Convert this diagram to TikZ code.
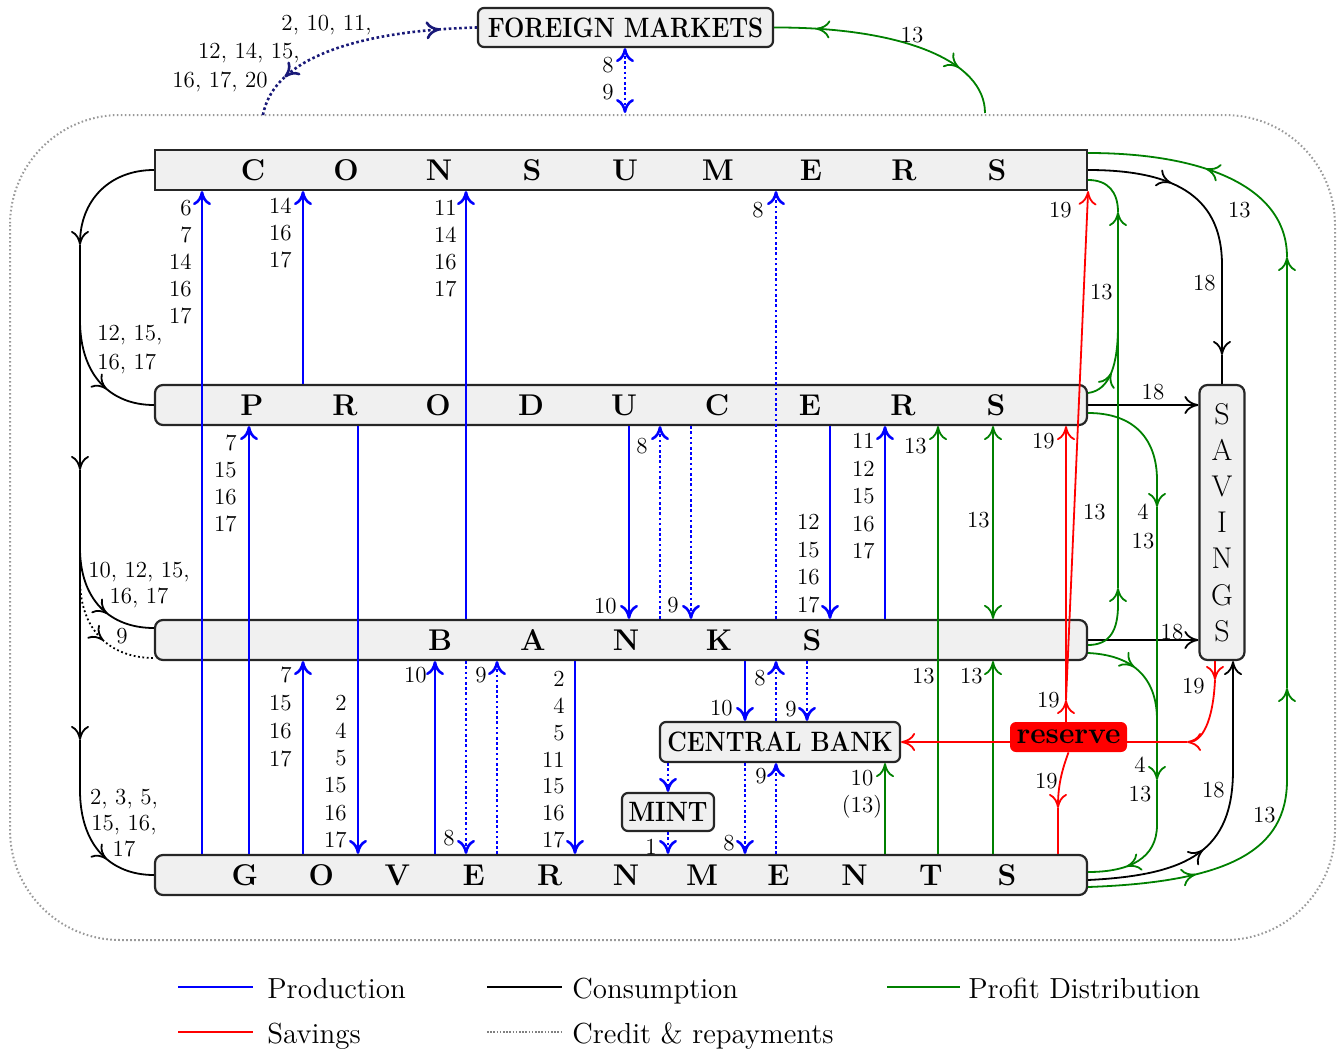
\documentclass[tikz,border=0pt]{standalone}
\usepackage{fontspec}
\usetikzlibrary{arrows.meta,decorations.markings}
\definecolor{pgreen}{RGB}{0,128,0}
\definecolor{boxgray}{RGB}{240,240,240}
\definecolor{navyb}{RGB}{25,25,120}
\newcommand\wideL[1]{\makebox[46.5pt]{#1}}
\newcommand\govL[1]{\makebox[38.1pt]{#1}}
\begin{document}
\begin{tikzpicture}[x=0.5pt,y=-0.5pt,>={To[length=7pt,width=9pt]},
  box/.style={draw=black!85,line width=1.1pt,fill=boxgray,inner sep=0pt,rounded corners=4pt},
  band/.style={box,minimum width=466pt,minimum height=20pt,font=\fontsize{15}{18}\selectfont\bfseries},
  small box/.style={box,rounded corners=3pt,font=\fontsize{14}{16}\selectfont\bfseries},
  prodl/.style={blue,line width=1.3pt},
  credl/.style={blue,line width=1.3pt,dash pattern=on 1.3pt off 1.3pt},
  consl/.style={black,line width=0.9pt},
  profl/.style={pgreen,line width=0.9pt},
  savl/.style={red,line width=0.9pt},
  num/.style={font=\fontsize{11.5}{13.5}\selectfont,inner sep=0pt,align=right,anchor=north east},
  numc/.style={font=\fontsize{11.5}{13.5}\selectfont,inner sep=0pt,align=center},
  legtext/.style={font=\fontsize{14.5}{17}\selectfont,inner sep=0pt,anchor=base west},
  am/.style={postaction={decorate,decoration={markings,mark=at position #1 with {\arrow{>}}}}},
  amr/.style={postaction={decorate,decoration={markings,mark=at position #1 with {\arrowreversed{>}}}}}
]
\useasboundingbox (0,0) rectangle (1340,1050);
\draw[gray!80,line width=1pt,dash pattern=on 0.8pt off 1.2pt,rounded corners=55pt] (10,115) rectangle (1335,940);

% ---------- boxes
\node[band,rounded corners=0pt] (cons) at (621,170) {\hspace*{4pt}\wideL{C}\wideL{O}\wideL{N}\wideL{S}\wideL{U}\wideL{M}\wideL{E}\wideL{R}\wideL{S}};
\node[band] (prod) at (621,405) {\hspace*{3pt}\wideL{P}\wideL{R}\wideL{O}\wideL{D}\wideL{U}\wideL{C}\wideL{E}\wideL{R}\wideL{S}};
\node[band] (banks) at (621,640) {\hspace*{5pt}\wideL{B}\wideL{A}\wideL{N}\wideL{K}\wideL{S}};
\node[band] (gov) at (621,875) {\hspace*{5pt}\govL{G}\govL{O}\govL{V}\govL{E}\govL{R}\govL{N}\govL{M}\govL{E}\govL{N}\govL{T}\govL{S}};
\node[box,minimum width=22.5pt,minimum height=137.5pt,align=center,font=\fontsize{15}{18.1}\selectfont] (sav) at (1222,522.5) {S\\A\\V\\I\\N\\G\\S};
\node[small box,minimum width=147.5pt,minimum height=19.5pt] (fm) at (625.5,27.5) {\scalebox{0.86}[1]{FOREIGN MARKETS}};
\node[small box,minimum width=120pt,minimum height=20pt] (cb) at (780,742) {\scalebox{0.86}[1]{CENTRAL BANK}};
\node[small box,minimum width=46pt,minimum height=19pt] (mint) at (668,812) {\scalebox{0.9}[1]{MINT}};
\node[fill=red,rounded corners=3pt,inner sep=0pt,minimum width=58.5pt,minimum height=15pt,font=\fontsize{15}{17}\selectfont\bfseries] (reserve) at (1068.5,737) {reserve};

\coordinate (fmL) at (263,115);
\coordinate (fmB) at (625,113);
\coordinate (fmR) at (985,113);

% ---------- foreign markets
\draw[credl,<->] (625,0 |- fm.south) -- (fmB);
\draw[navyb,line width=1.3pt,dash pattern=on 1.3pt off 1.3pt,amr=0.18,am=0.85] (fmL) .. controls (275,50) and (380,30) .. (fm.west);
\draw[profl,amr=0.17,am=0.78] (fm.east) .. controls (900,27) and (985,60) .. (fmR);

% ---------- production (blue)
\draw[prodl,->] (202,0 |- gov.north) -- (202,0 |- cons.south);
\draw[prodl,->] (303,0 |- prod.north) -- (303,0 |- cons.south);
\draw[prodl,->] (466,0 |- banks.north) -- (466,0 |- cons.south);
\draw[credl,->] (776,0 |- banks.north) -- (776,0 |- cons.south);
\draw[prodl,->] (249,0 |- gov.north) -- (249,0 |- prod.south);
\draw[prodl,->] (358,0 |- prod.south) -- (358,0 |- gov.north);
\draw[prodl,->] (629,0 |- prod.south) -- (629,0 |- banks.north);
\draw[credl,->] (660,0 |- banks.north) -- (660,0 |- prod.south);
\draw[credl,->] (691,0 |- prod.south) -- (691,0 |- banks.north);
\draw[prodl,->] (830,0 |- prod.south) -- (830,0 |- banks.north);
\draw[prodl,->] (885,0 |- banks.north) -- (885,0 |- prod.south);
\draw[prodl,->] (303,0 |- gov.north) -- (303,0 |- banks.south);
\draw[prodl,->] (435,0 |- gov.north) -- (435,0 |- banks.south);
\draw[credl,->] (466,0 |- banks.south) -- (466,0 |- gov.north);
\draw[credl,->] (497,0 |- gov.north) -- (497,0 |- banks.south);
\draw[prodl,->] (575,0 |- banks.south) -- (575,0 |- gov.north);
\draw[prodl,->] (745,0 |- banks.south) -- (745,0 |- cb.north);
\draw[credl,->] (776,0 |- cb.north) -- (776,0 |- banks.south);
\draw[credl,->] (807,0 |- banks.south) -- (807,0 |- cb.north);
\draw[credl,->] (668,0 |- cb.south) -- (668,0 |- mint.north);
\draw[credl,->] (668,0 |- mint.south) -- (668,0 |- gov.north);
\draw[credl,->] (745,0 |- cb.south) -- (745,0 |- gov.north);
\draw[credl,->] (776,0 |- gov.north) -- (776,0 |- cb.south);

% ---------- consumption (black)
\coordinate (k1) at (80,245);
\coordinate (k2) at (80,470);
\coordinate (k3) at (80,740);
\coordinate (k4) at (80,790);
\draw[consl,->] (cons.west) .. controls (110,170) and (80,200) .. (k1);
\draw[consl,->] (k1) -- (k2);
\draw[consl,->] (k2) -- (k3);
\draw[consl] (k3) -- (k4);
\draw[consl,am=0.6] (80,320) .. controls (80,375) and (110,405) .. (prod.west);
\draw[consl,am=0.6] (80,548) .. controls (80,600) and (110,628) .. ([yshift=6pt]banks.west);
\draw[consl,dash pattern=on 0.9pt off 1.3pt,am=0.55] (80,580) .. controls (80,630) and (110,658) .. ([yshift=-9pt]banks.west);
\draw[consl,am=0.6] (k4) .. controls (80,845) and (110,875) .. (gov.west);
\draw[consl,am=0.45] (cons.east) .. controls (1180,170) and (1222,200) .. (1222,265);
\draw[consl,->] (1222,265) -- (1222,355);
\draw[consl] (1222,355) -- (sav.north);
\draw[consl,->] (prod.east) -- (sav.west |- prod.east);
\draw[consl,->] (banks.east) -- (sav.west |- banks.east);
\draw[consl,am=0.38,->] ([yshift=-2.5pt]gov.east) .. controls (1190,875) and (1233,850) .. (1233,770) -- (1233,0 |- sav.south);

% ---------- profit distribution (green)
\draw[profl,am=0.43] ([yshift=-6pt]gov.east) .. controls (1230,882) and (1287,850) .. (1287,780);
\draw[profl,->] (1287,780) -- (1287,688);
\draw[profl,->] (1287,688) -- (1287,257);
\draw[profl,am=0.52] (1287,257) .. controls (1287,185) and (1200,153) .. ([yshift=8.5pt]cons.east);
\draw[profl,->] ([yshift=-2.5pt]banks.east) .. controls (1110,645) and (1118,630) .. (1118,605) -- (1118,588);
\draw[profl,->] (1118,588) -- (1118,212);
\draw[profl] (1118,212) .. controls (1118,192) and (1108,180) .. ([yshift=-5pt]cons.east);
\draw[profl,am=0.4] ([yshift=6pt]prod.east) .. controls (1110,390) and (1118,365) .. (1118,325);
\draw[profl,->] ([yshift=-4pt]prod.east) .. controls (1135,413) and (1157,440) .. (1157,480) -- (1157,507);
\draw[profl,->] (1157,507) -- (1157,780);
\draw[profl,am=0.72] (1157,780) -- (1157,825) .. controls (1157,858) and (1130,872) .. ([yshift=1.5pt]gov.east);
\draw[profl,am=0.45] ([yshift=-6.5pt]banks.east) .. controls (1130,655) and (1157,675) .. (1157,720);
\draw[profl,->] (938,0 |- gov.north) -- (938,0 |- prod.south);
\draw[profl,<->] (993,0 |- prod.south) -- (993,0 |- banks.north);
\draw[profl,->] (993,0 |- gov.north) -- (993,0 |- banks.south);
\draw[profl,->] (885,0 |- gov.north) -- (885,0 |- cb.south);

% ---------- savings (red)
\draw[savl,->] (1215,0 |- sav.south) -- (1215,680);
\draw[savl,->] (1215,680) .. controls (1213,722) and (1202,742) .. (1187,742);
\draw[savl] (1187,742) -- (reserve.east |- cb.east);
\draw[savl,->] (reserve.west |- cb.east) -- (cb.east);
\draw[savl,->] (1066,0 |- reserve.north) -- (1066,700);
\draw[savl,->] (1066,700) -- (1066,0 |- prod.south);
\draw[savl,->] (1066,700) -- (cons.south east);
\draw[savl,->] (reserve.south) .. controls (1060,775) and (1058,790) .. (1058,808);
\draw[savl] (1058,808) -- (1058,0 |- gov.north);

% ---------- number labels
\node[num] (l1) at (192,200) {6\\7\\14\\16\\17};
\node[num] (l2) at (292,198) {14\\16\\17};
\node[num] (l3) at (457,200) {11\\14\\16\\17};
\node[num] (l4) at (764,202) {8};
\node[num] (l5) at (237,435) {7\\15\\16\\17};
\node[num] (l6) at (648,438) {8};
\node[num] (l7) at (617,598) {10};
\node[num] (l8) at (679,597) {9};
\node[num,font=\fontsize{11.5}{13.75}\selectfont] (l9) at (820,514) {12\\15\\16\\17};
\node[num,font=\fontsize{11.5}{13.75}\selectfont] (l10) at (875,433) {11\\12\\15\\16\\17};
\node[num] (l11) at (927,438) {13};
\node[num] (l12) at (990,512) {13};
\node[num] (l13) at (1055,433) {19};
\node[num] (l14) at (1072,202) {19};
\node[num] (l15) at (1113,284) {13};
\node[num] (l16) at (1216,275) {18};
\node[num] (l17) at (1251,202) {13};
\node[numc] (l18) at (1153,392) {18};
\node[num] (l19) at (1106,504) {13};
\node[numc,anchor=north,font=\fontsize{11.5}{14.5}\selectfont] (l20) at (1143,504) {4\\13};
\node[numc] (l21) at (1172,632) {18};
\node[numc,anchor=north,font=\fontsize{11.5}{13}\selectfont] (l22) at (139,562) {10, 12, 15,\\16, 17};
\node[num,anchor=north west,align=left,font=\fontsize{11.5}{14.5}\selectfont] (l23) at (97,325) {12, 15,\\16, 17};
\node[numc] (l24) at (122,636) {9};
\node[numc,anchor=north,font=\fontsize{11.5}{13}\selectfont] (l25) at (124,789) {2, 3, 5,\\15, 16,\\17};
\node[num,font=\fontsize{11.5}{14}\selectfont] (l26) at (292,667) {7\\15\\16\\17};
\node[num,font=\fontsize{11.5}{13.7}\selectfont] (l27) at (347,695) {2\\4\\5\\15\\16\\17};
\node[num] (l28) at (427,667) {10};
\node[num] (l29) at (455,830) {8};
\node[num] (l30) at (487,667) {9};
\node[num,font=\fontsize{11.5}{13.4}\selectfont] (l31) at (565,671) {2\\4\\5\\11\\15\\16\\17};
\node[num] (l32) at (733,700) {10};
\node[num] (l33) at (766,670) {8};
\node[num] (l34) at (797,701) {9};
\node[num] (l35) at (767,768) {9};
\node[num] (l36) at (657,839) {1};
\node[num] (l37) at (735,835) {8};
\node[numc,anchor=north] (l38) at (862,770) {10\\(13)};
\node[num] (l39) at (935,668) {13};
\node[num] (l40) at (983,668) {13};
\node[num] (l41) at (1060,692) {19};
\node[num] (l42) at (1058,773) {19};
\node[num] (l43) at (1205,678) {19};
\node[numc,anchor=north,font=\fontsize{11.5}{14.5}\selectfont] (l44) at (1140,757) {4\\13};
\node[num] (l45) at (1225,782) {18};
\node[num] (l46) at (1276,807) {13};
\node[numc,anchor=east] (f1) at (372,25) {2, 10, 11,};
\node[numc,anchor=east] (f2) at (300,53) {12, 14, 15,};
\node[numc,anchor=east] (f3) at (268,82) {16, 17, 20};
\node[numc] (f4) at (608,65) {8};
\node[numc] (f5) at (608,92) {9};
\node[numc] (f6) at (912,35) {13};

% ---------- legend
\draw[prodl] (178,987) -- (253,987);
\node[legtext] (lg1) at (267,998) {Production};
\draw[black,line width=1.2pt] (487,987) -- (562,987);
\node[legtext] (lg2) at (572,998) {Consumption};
\draw[pgreen,line width=1.3pt] (887,987) -- (960,987);
\node[legtext] (lg3) at (968,998) {Profit Distribution};
\draw[red,line width=1.3pt] (178,1032) -- (253,1032);
\node[legtext] (lg4) at (267,1043) {Savings};
\draw[gray,line width=1pt,dash pattern=on 0.8pt off 0.8pt] (487,1032) -- (562,1032);
\node[legtext] (lg5) at (572,1043) {Credit \& repayments};
\end{tikzpicture}
\end{document}
